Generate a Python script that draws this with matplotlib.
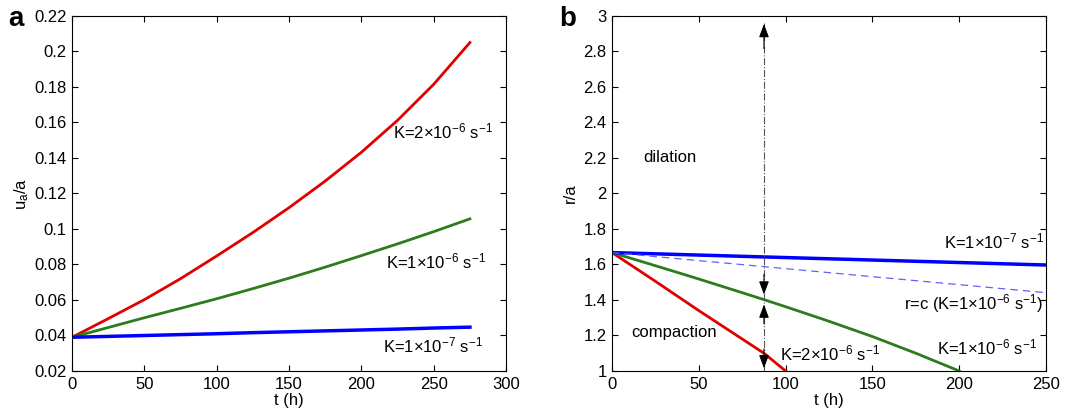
import matplotlib
matplotlib.use("Agg")
import matplotlib.pyplot as plt

plt.rcParams["font.family"] = ["Liberation Sans", "DejaVu Sans"]
plt.rcParams["mathtext.fontset"] = "custom"
plt.rcParams["mathtext.rm"] = "Liberation Sans"
plt.rcParams["mathtext.it"] = "Liberation Sans"

# panel a : u_a/a against t (h)
t_a = [0, 25, 50, 75, 100, 125, 150, 175, 200, 225, 250, 275]
ua_k2e6 = [0.039, 0.0495, 0.0602, 0.0720, 0.0848, 0.0980, 0.1120, 0.1270, 0.1432, 0.1612, 0.1815, 0.2050]
ua_k1e6 = [0.039, 0.0445, 0.0500, 0.0553, 0.0607, 0.0664, 0.0723, 0.0785, 0.0850, 0.0916, 0.0985, 0.1057]
ua_k1e7 = [0.039, 0.0395, 0.0400, 0.0405, 0.0410, 0.0416, 0.0421, 0.0426, 0.0431, 0.0436, 0.0442, 0.0447]

# panel b : r/a against t (h)
t_b_red = [0, 25, 50, 75, 87.5, 100]
r_k2e6 = [1.667, 1.505, 1.340, 1.180, 1.100, 1.0]
t_b_green = [0, 25, 50, 75, 87.5, 100, 125, 150, 175, 200]
r_k1e6 = [1.667, 1.593, 1.518, 1.441, 1.402, 1.362, 1.280, 1.194, 1.100, 1.0]
t_b_blue = [0, 250]
r_k1e7 = [1.667, 1.597]
r_c = [1.667, 1.441]
t_arrow = 87.5

fs = 12
fig = plt.figure(figsize=(10.77, 4.11), dpi=100)
ax1 = fig.add_axes([0.0669, 0.0973, 0.403, 0.864])
ax2 = fig.add_axes([0.5683, 0.0973, 0.403, 0.864])

ax1.plot(t_a, ua_k2e6, color="#e00000", lw=2)
ax1.plot(t_a, ua_k1e6, color="#2a7d1a", lw=2)
ax1.plot(t_a, ua_k1e7, color="#0000ff", lw=2.5)
ax1.set_xlim(0, 300)
ax1.set_ylim(0.02, 0.22)
ax1.set_xticks(range(0, 301, 50))
ax1.set_yticks([0.02, 0.04, 0.06, 0.08, 0.1, 0.12, 0.14, 0.16, 0.18, 0.2, 0.22])
ax1.set_yticklabels(["0.02", "0.04", "0.06", "0.08", "0.1", "0.12", "0.14", "0.16", "0.18", "0.2", "0.22"])
ax1.set_xlabel("t (h)", fontsize=fs, labelpad=1)
ax1.set_ylabel("u$_a$/a", fontsize=fs, labelpad=2)
ax1.text(222, 0.1548, r"K=2$\times$10$^{-6}$ s$^{-1}$", fontsize=fs, va="center")
ax1.text(217, 0.0815, r"K=1$\times$10$^{-6}$ s$^{-1}$", fontsize=fs, va="center")
ax1.text(215, 0.0345, r"K=1$\times$10$^{-7}$ s$^{-1}$", fontsize=fs, va="center")

ax2.plot(t_b_red, r_k2e6, color="#e00000", lw=2)
ax2.plot(t_b_green, r_k1e6, color="#2a7d1a", lw=2)
ax2.plot(t_b_blue, r_k1e7, color="#0000ff", lw=2.5)
ax2.plot(t_b_blue, r_c, color="#6060ff", lw=0.9, ls=(0, (6, 4)))
ax2.plot([t_arrow, t_arrow], [1.0, 2.96], color="#555555", lw=0.8, ls="-.")
arrow_kw = dict(arrowstyle="-|>,head_length=0.8,head_width=0.3", color="black", lw=0.8)
ax2.annotate("", xy=(t_arrow, 2.97), xytext=(t_arrow, 2.8), arrowprops=arrow_kw)
ax2.annotate("", xy=(t_arrow, 1.415), xytext=(t_arrow, 1.56), arrowprops=arrow_kw)
ax2.annotate("", xy=(t_arrow, 1.39), xytext=(t_arrow, 1.25), arrowprops=arrow_kw)
ax2.annotate("", xy=(t_arrow, 1.0), xytext=(t_arrow, 1.14), arrowprops=arrow_kw)
ax2.set_xlim(0, 250)
ax2.set_ylim(1, 3)
ax2.set_xticks(range(0, 251, 50))
ax2.set_yticks([1, 1.2, 1.4, 1.6, 1.8, 2, 2.2, 2.4, 2.6, 2.8, 3])
ax2.set_yticklabels(["1", "1.2", "1.4", "1.6", "1.8", "2", "2.2", "2.4", "2.6", "2.8", "3"])
ax2.set_xlabel("t (h)", fontsize=fs, labelpad=1)
ax2.set_ylabel("r/a", fontsize=fs, labelpad=4)
ax2.text(33.5, 2.2, "dilation", fontsize=fs, ha="center", va="center")
ax2.text(36, 1.215, "compaction", fontsize=fs, ha="center", va="center")
ax2.text(96.5, 1.1, r"K=2$\times$10$^{-6}$ s$^{-1}$", fontsize=fs, va="center")
ax2.text(187, 1.13, r"K=1$\times$10$^{-6}$ s$^{-1}$", fontsize=fs, va="center")
ax2.text(168, 1.38, r"r=c (K=1$\times$10$^{-6}$ s$^{-1}$)", fontsize=fs, va="center")
ax2.text(191, 1.73, r"K=1$\times$10$^{-7}$ s$^{-1}$", fontsize=fs, va="center")

for ax in (ax1, ax2):
    ax.tick_params(direction="in", top=True, right=True, labelsize=fs, length=4, width=0.8, pad=4)
    for s in ax.spines.values():
        s.set_linewidth(0.8)

fig.text(0.008, 0.953, "a", fontsize=20, fontweight="bold", va="center")
fig.text(0.519, 0.953, "b", fontsize=20, fontweight="bold", va="center")

fig.savefig("out.png", dpi=100)
